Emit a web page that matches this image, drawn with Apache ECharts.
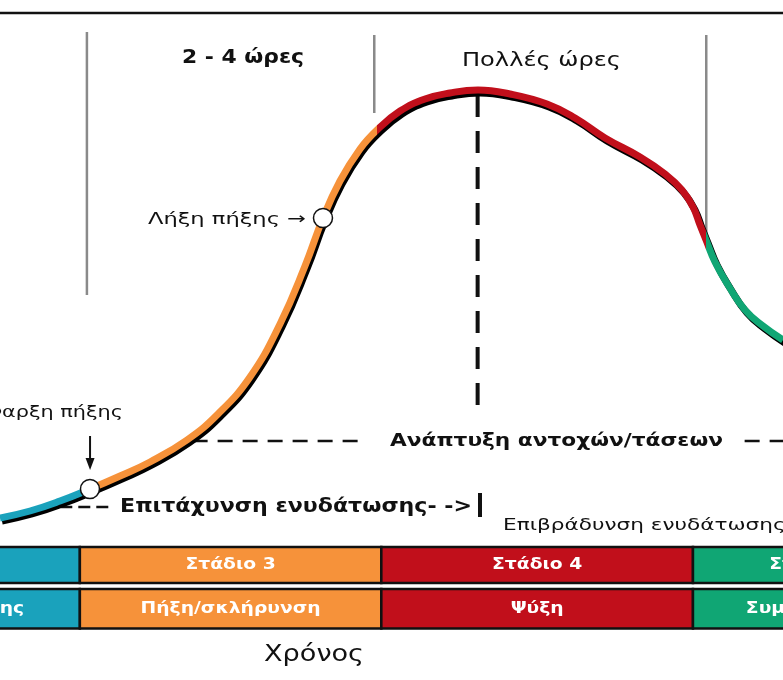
<!DOCTYPE html>
<html><head><meta charset="utf-8">
<script src="https://cdn.jsdelivr.net/npm/echarts@6/dist/echarts.min.js"></script>
<style>html,body{margin:0;padding:0;background:#fff}#c{width:783px;height:680px}</style>
</head><body><div id="c"></div>
<script>
// ---- data: heat evolution curve (time, heat, arbitrary units) ----
const timeValues = [0, 3.83, 7.66, 11.49, 15.33, 19.16, 23.88, 27.84, 31.93, 35.76, 38.95, 41.25, 43.42, 45.98, 48.15, 51.09, 54.28, 57.47, 61.05, 65.13, 69.86, 73.44, 77.27, 81.74, 84.93, 87.10, 88.51, 89.40, 90.17, 91.32, 92.98, 95.15, 97.45, 100];
const heatValues = [2.4, 3.8, 5.8, 8.2, 10.8, 13.6, 18.0, 23.2, 30.6, 41.2, 52.8, 62.4, 69.8, 76.2, 80.0, 83.8, 86.2, 87.4, 88.0, 87.2, 85.2, 82.4, 78.4, 74.6, 71.2, 68.0, 64.6, 61.0, 58.0, 53.6, 49.0, 44.0, 40.8, 38.0];
const settingPointIndex = [3, 11];            // start / end of setting
const curvePhaseBreaks = [11.49, 48.15, 90.17]; // colour changes along the curve
const stageBounds = [-29.4, 10.2, 48.7, 88.5, 119.5];
const stageNames = ['Στάδιο 2', 'Στάδιο 3', 'Στάδιο 4', 'Στάδιο 5'];
const stageDescs = ['Περίοδος ύπνωσης', 'Πήξη/σκλήρυνση', 'Ψύξη', 'Συμπύκνωση'];
const annotationTexts = ['2 - 4 ώρες', 'Πολλές ώρες', 'Λήξη πήξης →', 'Έναρξη πήξης',
  'Ανάπτυξη αντοχών/τάσεων', 'Επιτάχυνση ενυδάτωσης- ->', 'Επιβράδυνση ενυδάτωσης', 'Χρόνος'];

// ---- styles / layout ----
const COLORS = ['#1aa2bc', '#f6923a', '#c10f1b', '#10a674'];
const FONT = 'DejaVu Sans';
const annotationLayout = [
  {fit: [23.24, 38.83], y: 94.4, size: 19, weight: 'bold'},
  {fit: [59.0, 79.31], y: 93.8, size: 20},
  {fit: [18.9, 39.08], y: 62, size: 16},
  {x: 15.71, align: 'right', scale: 1.3, y: 23.4, size: 16},
  {fit: [49.81, 92.34], y: 17.8, size: 18, weight: 'bold'},
  {fit: [15.33, 60.28], y: 4.6, size: 19, weight: 'bold'},
  {x: 64.24, align: 'left', scale: 1.35, y: 0.8, size: 16},
  {fit: [33.72, 46.49], y: -25, size: 23}
];
const rows = [{top: -3.4, bottom: -10.6, mid: -7.0}, {top: -11.8, bottom: -19.7, mid: -15.8}];
const guides = [
  {p: [0, 103.4, 100, 103.4], k: 'frame'},
  {p: [11.1, 99.6, 11.1, 47], k: 'stage'},
  {p: [47.8, 99, 47.8, 83.4], k: 'stage'},
  {p: [90.2, 99, 90.2, 58], k: 'stage'},
  {p: [61.0, 87.0, 61.0, 23.0], k: 'dashV'},
  {p: [24.6, 17.8, 46.2, 17.8], k: 'dashH'},
  {p: [95.1, 17.8, 101, 17.8], k: 'dashH'},
  {p: [7.7, 4.6, 14.0, 4.6], k: 'dashS'},
  {p: [61.3, 7.4, 61.3, 2.6], k: 'bar'},
  {p: [11.5, 18.8, 11.5, 12.0], k: 'arrow'}
];
const guideStyles = {
  frame: {stroke: '#111', lineWidth: 2.5},
  stage: {stroke: '#8a8a8a', lineWidth: 2.5},
  dashV: {stroke: '#111', lineWidth: 4, lineDash: [22, 14]},
  dashH: {stroke: '#111', lineWidth: 2.5, lineDash: [15, 10]},
  dashS: {stroke: '#111', lineWidth: 2.5, lineDash: [12, 6]},
  bar: {stroke: '#111', lineWidth: 4},
  arrow: {stroke: '#111', lineWidth: 2}
};

const mctx = document.createElement('canvas').getContext('2d');
function textW(t, size, weight) {
  mctx.font = (weight || 'normal') + ' ' + size + 'px ' + FONT;
  return mctx.measureText(t).width;
}

const chart = echarts.init(document.getElementById('c'), null, {renderer: 'canvas'});

const curveData = timeValues.map((t, i) => [t, heatValues[i]]);
const pieces = [
  {lt: curvePhaseBreaks[0], color: COLORS[0]},
  {gte: curvePhaseBreaks[0], lt: curvePhaseBreaks[1], color: COLORS[1]},
  {gte: curvePhaseBreaks[1], lt: curvePhaseBreaks[2], color: COLORS[2]},
  {gte: curvePhaseBreaks[2], color: COLORS[3]}
];

const cellData = [];
stageNames.forEach((n, i) => { cellData.push([i, 0]); cellData.push([i, 1]); });

chart.setOption({
  animation: false,
  backgroundColor: '#fff',
  grid: {left: 0, right: 0, top: 0, bottom: 0},
  xAxis: {type: 'value', min: 0, max: 100, show: false},
  yAxis: {type: 'value', min: -30, max: 106, show: false},
  visualMap: {show: false, type: 'piecewise', dimension: 0, seriesIndex: 0, pieces: pieces},
  series: [
    {
      type: 'line', data: curveData, smooth: 0.45, showSymbol: false, z: 5, silent: true,
      lineStyle: {width: 7, shadowColor: '#000', shadowOffsetX: 2, shadowOffsetY: 3, shadowBlur: 0}
    },
    {
      type: 'scatter', z: 10, silent: true,
      data: settingPointIndex.map(i => [timeValues[i], heatValues[i]]),
      symbol: 'circle', symbolSize: 19,
      itemStyle: {color: '#fff', borderColor: '#111', borderWidth: 1.5, opacity: 1}
    },
    {
      type: 'custom', z: 2, silent: true,
      data: guides.map(g => [g.p[0], g.p[1]]),
      encode: {x: 0, y: 1},
      renderItem: function (params, api) {
        const g = guides[params.dataIndex];
        const a = api.coord([g.p[0], g.p[1]]), b = api.coord([g.p[2], g.p[3]]);
        const st = Object.assign({}, guideStyles[g.k]);
        if (g.k === 'arrow') {
          const headLen = 12, half = 4.5;
          return {type: 'group', children: [
            {type: 'line', shape: {x1: a[0], y1: a[1], x2: b[0], y2: b[1] - headLen + 2}, style: st},
            {type: 'polygon', shape: {points: [[b[0] - half, b[1] - headLen], [b[0] + half, b[1] - headLen], [b[0], b[1]]]}, style: {fill: '#111'}}
          ]};
        }
        return {type: 'line', shape: {x1: a[0], y1: a[1], x2: b[0], y2: b[1]}, style: st};
      }
    },
    {
      type: 'custom', z: 3, silent: true,
      data: cellData,
      renderItem: function (params, api) {
        const d = cellData[params.dataIndex];
        const i = d[0], r = d[1];
        const row = rows[r];
        const p1 = api.coord([stageBounds[i], row.top]);
        const p2 = api.coord([stageBounds[i + 1], row.bottom]);
        const pm = api.coord([(stageBounds[i] + stageBounds[i + 1]) / 2, row.mid]);
        const txt = r === 0 ? stageNames[i] : stageDescs[i];
        const ref = api.size([41.76 - 18.77, 0])[0];
        const sc = ref / textW(stageDescs[1], 16, 'bold');
        return {type: 'group', children: [
          {type: 'rect', shape: {x: p1[0], y: p1[1], width: p2[0] - p1[0], height: p2[1] - p1[1]},
            style: {fill: COLORS[i], stroke: '#111', lineWidth: 2.5}},
          {type: 'text', x: pm[0], y: pm[1], scaleX: sc,
            style: {text: txt, fill: '#fff', fontSize: 16, fontWeight: 'bold', fontFamily: FONT, align: 'center', verticalAlign: 'middle'}}
        ]};
      }
    },
    {
      type: 'custom', z: 6, silent: true,
      data: annotationLayout.map(L => [L.fit ? L.fit[0] : L.x, L.y]),
      encode: {x: 0, y: 1},
      renderItem: function (params, api) {
        const L = annotationLayout[params.dataIndex];
        const text = annotationTexts[params.dataIndex];
        const weight = L.weight || 'normal';
        let px, s = L.scale || 1, align = L.align || 'left';
        if (L.fit) {
          const a = api.coord([L.fit[0], L.y]), b = api.coord([L.fit[1], L.y]);
          px = a[0]; s = (b[0] - a[0]) / textW(text, L.size, weight); align = 'left';
        } else {
          px = api.coord([L.x, L.y])[0];
        }
        const py = api.coord([0, L.y])[1];
        return {type: 'text', x: px, y: py, scaleX: s,
          style: {text: text, fill: '#111', fontSize: L.size, fontWeight: weight, fontFamily: FONT, align: align, verticalAlign: 'middle'}};
      }
    }
  ]
});
</script>
</body></html>
